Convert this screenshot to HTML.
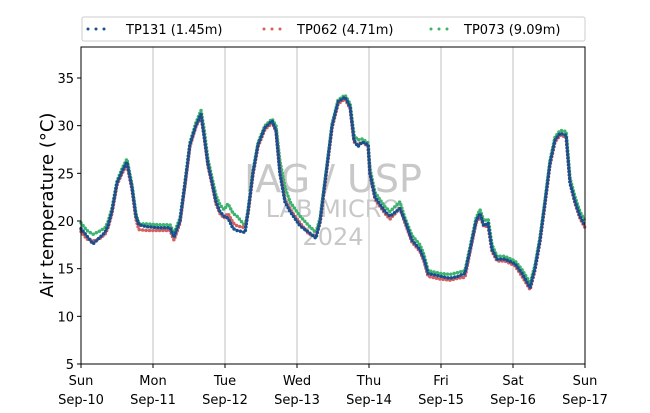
<!DOCTYPE html>
<html><head><meta charset="utf-8"><style>
body{margin:0;background:#fff;font-family:"DejaVu Sans","Liberation Sans",sans-serif}
</style></head><body>
<svg id="chart" width="650" height="409" xmlns="http://www.w3.org/2000/svg" font-family="DejaVu Sans, Liberation Sans, sans-serif">
<g id="grid"></g>
<g id="wm" fill="#c8c8c8" text-anchor="middle">
<text x="333" y="192" font-size="38">IAG / USP</text>
<text x="333" y="217" font-size="24">LAB MICRO</text>
<text x="333" y="245" font-size="24">2024</text>
</g>
<g id="series"></g>
<rect x="81" y="47" width="504" height="317" fill="none" stroke="#000" stroke-width="1"/>
<g id="axes"></g>
<text transform="translate(53,205) rotate(-90)" text-anchor="middle" font-size="18">Air temperature (°C)</text>
<g>
<rect x="82" y="17" width="503" height="24" rx="2" fill="#fff" stroke="#ccc"/>
<g id="legend-items"></g>
</g>
</svg>
<script>
const hours=[0,2,4,6,8,9,10.3,12,13.7,15.3,17,18.3,19.3,22,26,29.7,31,33,34.7,36.3,38.3,40,41,42.3,43.7,45,46.3,47.7,49,50.7,52,54.7,55.7,57.3,59,61.3,63.7,65,66.3,68,69.7,73,76,78.3,79.7,81.7,83.7,85.7,88,89.7,91,92.3,93.7,95.7,96.3,98,101.3,103,106.3,108,110.3,113,114.3,115.7,119.7,123,125.7,128,129.7,131.7,133,134.3,135.7,137,138.7,141.3,144.7,147,149.7,151.3,153,154.7,156.3,158,159.7,161.7,163,164.7,166.3,168];
const tp131=[19.2,18.4,17.6,18.2,18.8,19.5,21,24,25.2,26.2,23.5,20.5,19.6,19.4,19.3,19.3,18.3,20,24,28,30,31.2,29,26,24,22,21,20.5,20.3,19.2,19,18.8,21,25,28,29.8,30.5,29.5,25,22,21,19.5,18.8,18.2,20,25,30,32.5,33,32,28.5,27.8,28.3,28,25,22.5,21,20.5,21.3,20,18,17,16,14.5,14.2,14,14.2,14.5,17,20,20.8,19.5,19.8,17,16,16,15.5,14.5,13,15,18,22,26,28.5,29.2,29,24,22,20.5,19.5];
const tp062=[18.9,18.1,17.9,18.1,18.6,19.3,20.8,23.8,25,25.9,23.3,20.2,19.1,19.0,19.0,19.0,18.0,19.8,23.8,27.8,29.9,31.0,29.0,25.8,23.8,21.8,20.8,20.3,20.8,19.8,19.5,19.3,20.8,24.8,27.8,29.6,30.3,29.4,25.2,22.2,21.2,19.8,18.6,18.4,19.8,24.8,29.8,32.3,32.8,31.8,28.3,28.0,28.3,27.8,25.0,22.3,20.8,20.2,21.4,19.8,17.8,16.8,15.8,14.2,13.9,13.8,14.0,14.1,16.8,19.8,20.5,19.4,19.5,16.8,15.8,15.8,15.3,14.2,12.8,14.8,17.8,21.8,25.8,28.3,29.0,28.8,24.0,21.8,20.3,19.3];
const tp073=[19.8,19.0,18.6,18.9,19.3,19.9,21.3,24.2,25.5,26.5,23.8,20.8,19.7,19.7,19.6,19.6,18.7,20.3,24.2,28.2,30.3,31.6,29.7,26.5,24.5,22.7,21.7,21.2,21.8,20.8,20.5,19.5,21.2,25.2,28.2,30.0,30.7,30.0,26.3,23.5,22.0,20.5,19.5,18.8,20.3,25.2,30.2,32.7,33.2,32.3,29.0,28.5,28.6,28.2,25.5,23.0,21.5,21.0,22.0,20.3,18.5,17.5,16.5,14.8,14.5,14.4,14.6,14.8,17.3,20.3,21.2,20.0,20.2,17.5,16.3,16.3,15.8,14.9,13.5,15.3,18.3,22.3,26.3,28.8,29.5,29.4,24.5,22.5,21.0,20.0];
const yTicks=[5,10,15,20,25,30,35];
const dayLabels=["Sun","Mon","Tue","Wed","Thu","Fri","Sat","Sun"];
const dateLabels=["Sep-10","Sep-11","Sep-12","Sep-13","Sep-14","Sep-15","Sep-16","Sep-17"];
const seriesNames=["TP131 (1.45m)","TP062 (4.71m)","TP073 (9.09m)"];
const NS="http://www.w3.org/2000/svg";
const X0=81,X1=585,Y0=364,Y1=47,YMIN=5,YMAX=38.25;
const xs=h=>X0+h*(X1-X0)/168;
const ys=v=>Y0-(v-YMIN)*(Y0-Y1)/(YMAX-YMIN);
function mk(tag,attrs,parent){const e=document.createElementNS(NS,tag);for(const k in attrs)e.setAttribute(k,attrs[k]);parent.appendChild(e);return e;}
const grid=document.getElementById('grid'),axes=document.getElementById('axes');
dayLabels.forEach((d,i)=>{
  const x=xs(i*24);
  if(i>0&&i<7){const l=mk('line',{x1:x,x2:x,y1:Y1,y2:Y0,stroke:'#c0c0c0','stroke-width':1},grid);
  
  }
  const t=mk('line',{x1:x,x2:x,y1:Y0,y2:Y0+4,stroke:'#000'},axes);
  
  
  const tx=mk('text',{x:x,y:Y0+21,'text-anchor':'middle','font-size':13},axes);
  
  
  tx.textContent=d;
  const tx2=mk('text',{x:x,y:Y0+40,'text-anchor':'middle','font-size':13},axes);
  
  
  tx2.textContent=dateLabels[i];
});
yTicks.forEach(v=>{const y=ys(v);
  const t=mk('line',{x1:X0-4,x2:X0,y1:y,y2:y,stroke:'#000'},axes);
  
  
  const tx=mk('text',{x:X0-7,y:y+5,'text-anchor':'end','font-size':13},axes);
  
  
  tx.textContent=v;});
const colors=['#1a4f8f','#d65f5f','#3cb46e'];
const data=[tp131,tp062,tp073];
const sg=document.getElementById('series');
[2,1,0].forEach(i=>{
  const pts=hours.map((h,j)=>xs(h).toFixed(1)+','+ys(data[i][j]).toFixed(1)).join(' ');
  const p=mk('polyline',{points:pts,fill:'none',stroke:colors[i],'stroke-width':3.5,'stroke-linecap':'round','stroke-dasharray':'0 3.4'},sg);
  
  
});
const lg=document.getElementById('legend-items');
const lx=[88,264,431];
const tx=[126,297,464];
seriesNames.forEach((n,i)=>{
  const l=mk('line',{x1:lx[i],x2:lx[i]+24,y1:29,y2:29,stroke:colors[i],'stroke-width':3,'stroke-linecap':'round','stroke-dasharray':'0 8'},lg);
  
  
  const t=mk('text',{x:tx[i],y:34,'font-size':13},lg);
  
  
  t.textContent=n;
});
</script>
</body></html>
